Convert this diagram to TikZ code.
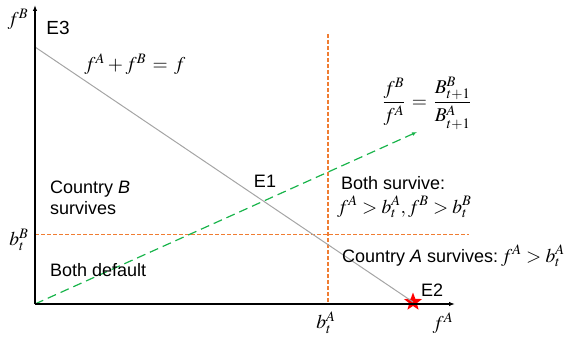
\documentclass[tikz,border=0pt]{standalone}
\usepackage{mathptmx}
\usepackage[no-math]{fontspec}
\setmainfont{Liberation Sans}
\usetikzlibrary{arrows.meta,shapes.geometric}
\definecolor{orng}{RGB}{240,125,50}
\definecolor{grn}{RGB}{25,180,75}
\definecolor{gline}{RGB}{165,165,165}
\newcommand{\bm}[1]{{\fontsize{19.5}{22}\selectfont$#1$}}
\begin{document}
\begin{tikzpicture}[x=1pt,y=-1pt,
  lab/.style={font=\fontsize{18}{22}\selectfont, inner sep=0pt},
  axis/.style={line width=1.2pt,-{Latex[length=6pt,width=4.5pt]}},
  orangedash/.style={draw=orng,line width=1.1pt,dash pattern=on 4pt off 2pt},
  greendash/.style={draw=grn,line width=1.2pt,dash pattern=on 9pt off 5pt,-{Latex[length=5pt,width=4pt]}},
  budget/.style={draw=gline,line width=1pt}]
\useasboundingbox (0,0) rectangle (577,339);
% coordinates
\coordinate (O) at (35,304);
\coordinate (ytop) at (35,5);
\coordinate (xend) at (455,304);
\coordinate (E3pt) at (35,47);
\coordinate (bAtop) at (328,34);
\coordinate (bAbot) at (328,304);
\coordinate (bBleft) at (35,234.5);
\coordinate (bBright) at (469,234.5);
\coordinate (gend) at (417,132);
% guide lines
\draw[orangedash] (bAtop) -- (bAbot);
\draw[orangedash] (bBleft) -- (bBright);
% star
\node[star,star points=5,star point ratio=2.4,fill=red,inner sep=0pt,minimum size=19pt] (E2pt) at (413,302) {};
\draw[budget] (E3pt) -- (E2pt.center);
\draw[greendash] (O) -- (gend);
% axes
\draw[axis] (O) -- (ytop);
\draw[axis] (O) -- (xend);
% labels
\node[lab] (fB) at (18,19) {\bm{f^B}};
\node[lab,font=\fontsize{19}{22}\selectfont] (E3) at (58,28) {E3};
\node[lab] (budgeteq) at (135,64) {\bm{f^A + f^B\, =\, f}};
\node[lab] (ratio) at (427,103) {\bm{\displaystyle\frac{f^B}{f^A}\, =\, \frac{B^B_{t+1}}{B^A_{t+1}}}};
\node[lab] (E1) at (265,181) {E1};
\node[lab,anchor=base west] (cB1) at (50,193) {Country \textit{B}};
\node[lab,anchor=base west] (cB2) at (50,214) {survives};
\node[lab] (bB) at (19,240) {\bm{b_t^B}};
\node[lab,anchor=base west] (bd) at (50,276) {Both default};
\node[lab,anchor=base west] (bs1) at (341,189) {Both survive:};
\node[lab,anchor=base west] (bs2) at (337,213) {\bm{f^A > b_t^A, f^B > b_t^B}};
\node[lab,anchor=base west] (cA) at (342,262) {Country \textit{A} survives:\,\bm{f^A > b_t^A}};
\node[lab] (E2) at (432,290) {E2};
\node[lab] (bA) at (326,323) {\bm{b_t^A}};
\node[lab] (fA) at (443,323) {\bm{f^A}};
\end{tikzpicture}
\end{document}
